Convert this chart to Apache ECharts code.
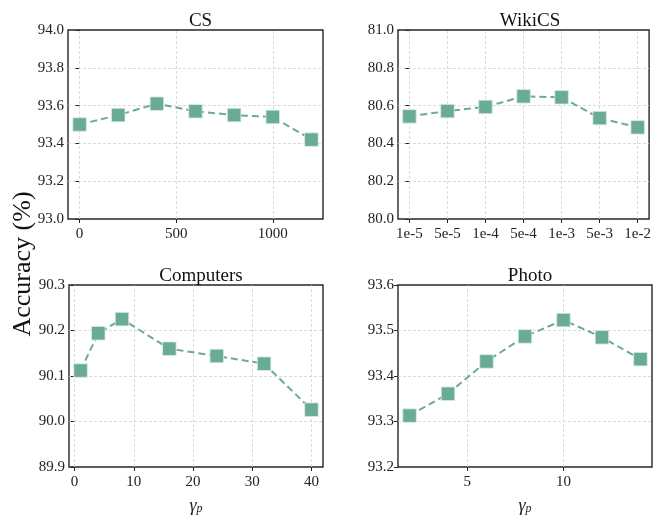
<!DOCTYPE html>
<html>
<head>
<meta charset="utf-8">
<script src="https://cdn.jsdelivr.net/npm/echarts@6/dist/echarts.min.js"></script>
<style>
  html, body { margin: 0; padding: 0; background: #fff; }
  #chart { width: 654px; height: 516px; }
</style>
</head>
<body>
<div id="chart"></div>
<script>
// Panel titles
const panelTitles = ['CS', 'WikiCS', 'Computers', 'Photo'];

// CS: x = gamma values, y = accuracy (%)
const csX = [0, 200, 400, 600, 800, 1000, 1200];
const csY = [93.50, 93.55, 93.61, 93.57, 93.55, 93.54, 93.42];
const csXTicks = [0, 500, 1000];

// WikiCS: categorical x positions with their tick labels
const wikiLabels = ['1e-5', '5e-5', '1e-4', '5e-4', '1e-3', '5e-3', '1e-2'];
const wikiY = [80.543, 80.571, 80.593, 80.649, 80.644, 80.534, 80.485];

// Computers: x = gamma_p
const compX = [1, 4, 8, 16, 24, 32, 40];
const compY = [90.112, 90.194, 90.225, 90.160, 90.144, 90.127, 90.026];
const compXTicks = [0, 10, 20, 30, 40];

// Photo: x = gamma_p
const photoX = [2, 4, 6, 8, 10, 12, 14];
const photoY = [93.313, 93.361, 93.432, 93.487, 93.523, 93.485, 93.437];
const photoXTicks = [5, 10];

const FONT = 'Liberation Serif';
const LINE = '#6aab94';
const GRIDC = '#d2d2d2';
const AXISC = '#262626';

const chart = echarts.init(document.getElementById('chart'), null, { renderer: 'canvas' });

const gridRects = [
  { left: 68, top: 30, width: 255, height: 189 },
  { left: 398, top: 30, width: 254, height: 189 },
  { left: 69, top: 285, width: 254, height: 189 },
  { left: 398, top: 285, width: 254, height: 189 }
];

const grids = gridRects.map(r => Object.assign({
  show: true, borderColor: AXISC, borderWidth: 1.4, backgroundColor: 'transparent'
}, r));

const titles = gridRects.map((r, i) => ({
  text: panelTitles[i],
  left: r.left + r.width / 2,
  top: r.top - 23,
  textAlign: 'center',
  textStyle: { fontFamily: FONT, fontSize: 19, fontWeight: 'normal', color: '#111' }
}));

const gammaName = {
  name: '{g|γ}{p|p}',
  nameLocation: 'middle',
  nameGap: 30,
  nameTextStyle: {
    rich: {
      g: { fontFamily: FONT, fontStyle: 'italic', fontSize: 18, color: '#222' },
      p: { fontFamily: FONT, fontStyle: 'italic', fontSize: 12, color: '#222', verticalAlign: 'bottom', padding: [6, 0, 0, 0] }
    }
  }
};

function xAxisCfg(idx, min, max, ticks, fmt, extra) {
  return Object.assign({
    type: 'value', gridIndex: idx, min: min, max: max,
    axisLine: { show: false },
    axisTick: { show: true, inside: false, length: 4, customValues: ticks, lineStyle: { color: AXISC, width: 1 } },
    axisLabel: {
      customValues: ticks, formatter: fmt, margin: 8,
      fontFamily: FONT, fontSize: 15, color: '#222'
    },
    splitLine: { show: false }
  }, extra || {});
}

function yAxisCfg(idx, min, max, interval, digits) {
  return {
    type: 'value', gridIndex: idx, min: min, max: max, interval: interval,
    axisLine: { show: false },
    axisTick: { show: true, inside: false, length: 4, lineStyle: { color: AXISC, width: 1 } },
    axisLabel: {
      margin: 4, fontFamily: FONT, fontSize: 15, color: '#222',
      formatter: v => v.toFixed(digits)
    },
    splitLine: {
      show: true, showMinLine: false, showMaxLine: false,
      lineStyle: { color: GRIDC, type: [3, 2], width: 0.8 }
    }
  };
}

const xAxes = [
  xAxisCfg(0, -60, 1260, csXTicks, v => String(v)),
  xAxisCfg(1, -0.3, 6.3, wikiLabels.map((_, i) => i), v => wikiLabels[Math.round(v)]),
  xAxisCfg(2, -0.95, 41.95, compXTicks, v => String(v), gammaName),
  xAxisCfg(3, 1.4, 14.6, photoXTicks, v => String(v), gammaName)
];

const yAxes = [
  yAxisCfg(0, 93.0, 94.0, 0.2, 1),
  yAxisCfg(1, 80.0, 81.0, 0.2, 1),
  yAxisCfg(2, 89.9, 90.3, 0.1, 1),
  yAxisCfg(3, 93.2, 93.6, 0.1, 1)
];

const panelData = [
  csX.map((x, i) => [x, csY[i]]),
  wikiY.map((y, i) => [i, y]),
  compX.map((x, i) => [x, compY[i]]),
  photoX.map((x, i) => [x, photoY[i]])
];

const panelXTicks = [csXTicks, wikiLabels.map((_, i) => i), compXTicks, photoXTicks];

const series = [];
panelData.forEach((data, i) => {
  // vertical dashed grid lines at the x tick positions
  series.push({
    type: 'line', xAxisIndex: i, yAxisIndex: i, data: [], z: 1, silent: true,
    markLine: {
      silent: true, symbol: ['none', 'none'], label: { show: false },
      lineStyle: { color: GRIDC, type: [3, 2], width: 0.8 },
      animation: false,
      data: panelXTicks[i].map(v => ({ xAxis: v }))
    }
  });
  series.push({
    type: 'line', xAxisIndex: i, yAxisIndex: i, data: data, z: 5,
    symbol: 'rect', symbolSize: 13.5,
    lineStyle: { color: LINE, width: 2, type: [7, 4] },
    itemStyle: { color: LINE, borderColor: '#d8ece4', borderWidth: 0.8 },
    animation: false
  });
});

chart.setOption({
  animation: false,
  title: titles,
  grid: grids,
  xAxis: xAxes,
  yAxis: yAxes,
  series: series,
  graphic: [{
    type: 'text',
    x: 23, y: 264, rotation: Math.PI / 2,
    style: {
      text: 'Accuracy (%)', fontFamily: FONT, fontSize: 26, fill: '#111',
      textAlign: 'center', textVerticalAlign: 'middle'
    }
  }]
});
</script>
</body>
</html>
